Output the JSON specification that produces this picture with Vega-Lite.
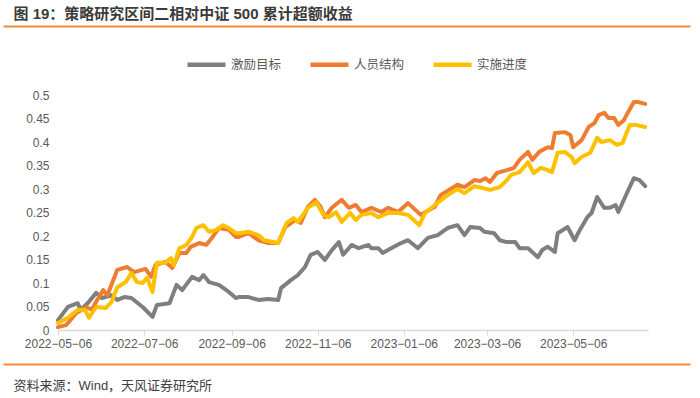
{
  "$schema": "https://vega.github.io/schema/vega-lite/v6.json",
  "autosize": "none",
  "width": 687,
  "height": 235,
  "padding": {"left": 3, "top": 95, "right": 10, "bottom": 68},
  "background": "white",
  "config": {
    "view": {"stroke": null},
    "font": "Liberation Sans, Noto Sans CJK SC, sans-serif"
  },
  "datasets": {
    "series": [
      {"date": "2022-05-06", "s": "激励目标", "v": 0.021},
      {"date": "2022-05-13", "s": "激励目标", "v": 0.049},
      {"date": "2022-05-20", "s": "激励目标", "v": 0.057},
      {"date": "2022-05-22", "s": "激励目标", "v": 0.043},
      {"date": "2022-05-27", "s": "激励目标", "v": 0.057},
      {"date": "2022-06-02", "s": "激励目标", "v": 0.079},
      {"date": "2022-06-06", "s": "激励目标", "v": 0.068},
      {"date": "2022-06-13", "s": "激励目标", "v": 0.074},
      {"date": "2022-06-17", "s": "激励目标", "v": 0.064},
      {"date": "2022-06-22", "s": "激励目标", "v": 0.070},
      {"date": "2022-06-27", "s": "激励目标", "v": 0.068},
      {"date": "2022-07-05", "s": "激励目标", "v": 0.049},
      {"date": "2022-07-12", "s": "激励目标", "v": 0.028},
      {"date": "2022-07-15", "s": "激励目标", "v": 0.053},
      {"date": "2022-07-24", "s": "激励目标", "v": 0.057},
      {"date": "2022-07-29", "s": "激励目标", "v": 0.096},
      {"date": "2022-08-02", "s": "激励目标", "v": 0.085},
      {"date": "2022-08-09", "s": "激励目标", "v": 0.113},
      {"date": "2022-08-14", "s": "激励目标", "v": 0.106},
      {"date": "2022-08-17", "s": "激励目标", "v": 0.117},
      {"date": "2022-08-21", "s": "激励目标", "v": 0.102},
      {"date": "2022-08-28", "s": "激励目标", "v": 0.096},
      {"date": "2022-09-04", "s": "激励目标", "v": 0.081},
      {"date": "2022-09-09", "s": "激励目标", "v": 0.068},
      {"date": "2022-09-11", "s": "激励目标", "v": 0.070},
      {"date": "2022-09-18", "s": "激励目标", "v": 0.070},
      {"date": "2022-09-25", "s": "激励目标", "v": 0.064},
      {"date": "2022-10-02", "s": "激励目标", "v": 0.066},
      {"date": "2022-10-09", "s": "激励目标", "v": 0.064},
      {"date": "2022-10-11", "s": "激励目标", "v": 0.089},
      {"date": "2022-10-18", "s": "激励目标", "v": 0.106},
      {"date": "2022-10-23", "s": "激励目标", "v": 0.117},
      {"date": "2022-10-28", "s": "激励目标", "v": 0.134},
      {"date": "2022-11-01", "s": "激励目标", "v": 0.160},
      {"date": "2022-11-06", "s": "激励目标", "v": 0.166},
      {"date": "2022-11-11", "s": "激励目标", "v": 0.149},
      {"date": "2022-11-16", "s": "激励目标", "v": 0.170},
      {"date": "2022-11-21", "s": "激励目标", "v": 0.187},
      {"date": "2022-11-24", "s": "激励目标", "v": 0.160},
      {"date": "2022-11-30", "s": "激励目标", "v": 0.181},
      {"date": "2022-12-05", "s": "激励目标", "v": 0.174},
      {"date": "2022-12-12", "s": "激励目标", "v": 0.181},
      {"date": "2022-12-14", "s": "激励目标", "v": 0.174},
      {"date": "2022-12-19", "s": "激励目标", "v": 0.174},
      {"date": "2022-12-22", "s": "激励目标", "v": 0.164},
      {"date": "2022-12-28", "s": "激励目标", "v": 0.174},
      {"date": "2023-01-04", "s": "激励目标", "v": 0.185},
      {"date": "2023-01-09", "s": "激励目标", "v": 0.191},
      {"date": "2023-01-16", "s": "激励目标", "v": 0.174},
      {"date": "2023-01-23", "s": "激励目标", "v": 0.196},
      {"date": "2023-01-30", "s": "激励目标", "v": 0.202},
      {"date": "2023-02-06", "s": "激励目标", "v": 0.217},
      {"date": "2023-02-13", "s": "激励目标", "v": 0.223},
      {"date": "2023-02-18", "s": "激励目标", "v": 0.202},
      {"date": "2023-02-22", "s": "激励目标", "v": 0.219},
      {"date": "2023-03-01", "s": "激励目标", "v": 0.217},
      {"date": "2023-03-04", "s": "激励目标", "v": 0.209},
      {"date": "2023-03-11", "s": "激励目标", "v": 0.206},
      {"date": "2023-03-15", "s": "激励目标", "v": 0.191},
      {"date": "2023-03-20", "s": "激励目标", "v": 0.187},
      {"date": "2023-03-26", "s": "激励目标", "v": 0.187},
      {"date": "2023-03-29", "s": "激励目标", "v": 0.174},
      {"date": "2023-04-04", "s": "激励目标", "v": 0.174},
      {"date": "2023-04-11", "s": "激励目标", "v": 0.155},
      {"date": "2023-04-14", "s": "激励目标", "v": 0.170},
      {"date": "2023-04-18", "s": "激励目标", "v": 0.177},
      {"date": "2023-04-23", "s": "激励目标", "v": 0.166},
      {"date": "2023-04-25", "s": "激励目标", "v": 0.206},
      {"date": "2023-05-02", "s": "激励目标", "v": 0.219},
      {"date": "2023-05-07", "s": "激励目标", "v": 0.191},
      {"date": "2023-05-10", "s": "激励目标", "v": 0.209},
      {"date": "2023-05-16", "s": "激励目标", "v": 0.240},
      {"date": "2023-05-19", "s": "激励目标", "v": 0.249},
      {"date": "2023-05-23", "s": "激励目标", "v": 0.283},
      {"date": "2023-05-28", "s": "激励目标", "v": 0.260},
      {"date": "2023-06-01", "s": "激励目标", "v": 0.260},
      {"date": "2023-06-05", "s": "激励目标", "v": 0.266},
      {"date": "2023-06-07", "s": "激励目标", "v": 0.251},
      {"date": "2023-06-13", "s": "激励目标", "v": 0.291},
      {"date": "2023-06-18", "s": "激励目标", "v": 0.323},
      {"date": "2023-06-22", "s": "激励目标", "v": 0.319},
      {"date": "2023-06-26", "s": "激励目标", "v": 0.306},
      {"date": "2022-05-06", "s": "人员结构", "v": 0.006},
      {"date": "2022-05-12", "s": "人员结构", "v": 0.011},
      {"date": "2022-05-19", "s": "人员结构", "v": 0.036},
      {"date": "2022-05-26", "s": "人员结构", "v": 0.049},
      {"date": "2022-05-30", "s": "人员结构", "v": 0.043},
      {"date": "2022-06-02", "s": "人员结构", "v": 0.060},
      {"date": "2022-06-07", "s": "人员结构", "v": 0.085},
      {"date": "2022-06-10", "s": "人员结构", "v": 0.074},
      {"date": "2022-06-17", "s": "人员结构", "v": 0.128},
      {"date": "2022-06-24", "s": "人员结构", "v": 0.134},
      {"date": "2022-06-29", "s": "人员结构", "v": 0.123},
      {"date": "2022-07-07", "s": "人员结构", "v": 0.130},
      {"date": "2022-07-11", "s": "人员结构", "v": 0.113},
      {"date": "2022-07-14", "s": "人员结构", "v": 0.138},
      {"date": "2022-07-21", "s": "人员结构", "v": 0.145},
      {"date": "2022-07-26", "s": "人员结构", "v": 0.132},
      {"date": "2022-07-31", "s": "人员结构", "v": 0.164},
      {"date": "2022-08-05", "s": "人员结构", "v": 0.164},
      {"date": "2022-08-08", "s": "人员结构", "v": 0.177},
      {"date": "2022-08-14", "s": "人员结构", "v": 0.185},
      {"date": "2022-08-19", "s": "人员结构", "v": 0.181},
      {"date": "2022-08-23", "s": "人员结构", "v": 0.196},
      {"date": "2022-08-28", "s": "人员结构", "v": 0.217},
      {"date": "2022-09-04", "s": "人员结构", "v": 0.213},
      {"date": "2022-09-09", "s": "人员结构", "v": 0.198},
      {"date": "2022-09-11", "s": "人员结构", "v": 0.198},
      {"date": "2022-09-18", "s": "人员结构", "v": 0.206},
      {"date": "2022-09-25", "s": "人员结构", "v": 0.191},
      {"date": "2022-10-02", "s": "人员结构", "v": 0.185},
      {"date": "2022-10-09", "s": "人员结构", "v": 0.185},
      {"date": "2022-10-14", "s": "人员结构", "v": 0.219},
      {"date": "2022-10-21", "s": "人员结构", "v": 0.234},
      {"date": "2022-10-25", "s": "人员结构", "v": 0.228},
      {"date": "2022-10-30", "s": "人员结构", "v": 0.262},
      {"date": "2022-11-04", "s": "人员结构", "v": 0.277},
      {"date": "2022-11-08", "s": "人员结构", "v": 0.262},
      {"date": "2022-11-11", "s": "人员结构", "v": 0.240},
      {"date": "2022-11-16", "s": "人员结构", "v": 0.260},
      {"date": "2022-11-23", "s": "人员结构", "v": 0.277},
      {"date": "2022-11-28", "s": "人员结构", "v": 0.260},
      {"date": "2022-12-03", "s": "人员结构", "v": 0.266},
      {"date": "2022-12-07", "s": "人员结构", "v": 0.251},
      {"date": "2022-12-14", "s": "人员结构", "v": 0.260},
      {"date": "2022-12-21", "s": "人员结构", "v": 0.251},
      {"date": "2022-12-26", "s": "人员结构", "v": 0.260},
      {"date": "2023-01-02", "s": "人员结构", "v": 0.251},
      {"date": "2023-01-09", "s": "人员结构", "v": 0.270},
      {"date": "2023-01-18", "s": "人员结构", "v": 0.245},
      {"date": "2023-01-28", "s": "人员结构", "v": 0.262},
      {"date": "2023-02-01", "s": "人员结构", "v": 0.287},
      {"date": "2023-02-13", "s": "人员结构", "v": 0.309},
      {"date": "2023-02-18", "s": "人员结构", "v": 0.304},
      {"date": "2023-02-25", "s": "人员结构", "v": 0.319},
      {"date": "2023-03-01", "s": "人员结构", "v": 0.317},
      {"date": "2023-03-05", "s": "人员结构", "v": 0.323},
      {"date": "2023-03-08", "s": "人员结构", "v": 0.315},
      {"date": "2023-03-13", "s": "人员结构", "v": 0.334},
      {"date": "2023-03-20", "s": "人员结构", "v": 0.340},
      {"date": "2023-03-25", "s": "人员结构", "v": 0.345},
      {"date": "2023-03-29", "s": "人员结构", "v": 0.362},
      {"date": "2023-04-04", "s": "人员结构", "v": 0.379},
      {"date": "2023-04-07", "s": "人员结构", "v": 0.362},
      {"date": "2023-04-12", "s": "人员结构", "v": 0.379},
      {"date": "2023-04-18", "s": "人员结构", "v": 0.389},
      {"date": "2023-04-21", "s": "人员结构", "v": 0.387},
      {"date": "2023-04-23", "s": "人员结构", "v": 0.419},
      {"date": "2023-04-30", "s": "人员结构", "v": 0.421},
      {"date": "2023-05-04", "s": "人员结构", "v": 0.415},
      {"date": "2023-05-06", "s": "人员结构", "v": 0.389},
      {"date": "2023-05-12", "s": "人员结构", "v": 0.404},
      {"date": "2023-05-17", "s": "人员结构", "v": 0.432},
      {"date": "2023-05-21", "s": "人员结构", "v": 0.440},
      {"date": "2023-05-24", "s": "人员结构", "v": 0.457},
      {"date": "2023-05-28", "s": "人员结构", "v": 0.462},
      {"date": "2023-05-31", "s": "人员结构", "v": 0.451},
      {"date": "2023-06-04", "s": "人员结构", "v": 0.451},
      {"date": "2023-06-07", "s": "人员结构", "v": 0.436},
      {"date": "2023-06-11", "s": "人员结构", "v": 0.447},
      {"date": "2023-06-14", "s": "人员结构", "v": 0.464},
      {"date": "2023-06-18", "s": "人员结构", "v": 0.485},
      {"date": "2023-06-21", "s": "人员结构", "v": 0.485},
      {"date": "2023-06-26", "s": "人员结构", "v": 0.481},
      {"date": "2022-05-06", "s": "实施进度", "v": 0.015},
      {"date": "2022-05-13", "s": "实施进度", "v": 0.026},
      {"date": "2022-05-20", "s": "实施进度", "v": 0.043},
      {"date": "2022-05-25", "s": "实施进度", "v": 0.043},
      {"date": "2022-05-28", "s": "实施进度", "v": 0.026},
      {"date": "2022-06-02", "s": "实施进度", "v": 0.049},
      {"date": "2022-06-09", "s": "实施进度", "v": 0.047},
      {"date": "2022-06-13", "s": "实施进度", "v": 0.060},
      {"date": "2022-06-17", "s": "实施进度", "v": 0.091},
      {"date": "2022-06-23", "s": "实施进度", "v": 0.102},
      {"date": "2022-06-27", "s": "实施进度", "v": 0.121},
      {"date": "2022-07-01", "s": "实施进度", "v": 0.102},
      {"date": "2022-07-05", "s": "实施进度", "v": 0.100},
      {"date": "2022-07-08", "s": "实施进度", "v": 0.111},
      {"date": "2022-07-12", "s": "实施进度", "v": 0.081},
      {"date": "2022-07-15", "s": "实施进度", "v": 0.143},
      {"date": "2022-07-21", "s": "实施进度", "v": 0.143},
      {"date": "2022-07-25", "s": "实施进度", "v": 0.153},
      {"date": "2022-07-27", "s": "实施进度", "v": 0.138},
      {"date": "2022-07-31", "s": "实施进度", "v": 0.174},
      {"date": "2022-08-05", "s": "实施进度", "v": 0.181},
      {"date": "2022-08-09", "s": "实施进度", "v": 0.198},
      {"date": "2022-08-12", "s": "实施进度", "v": 0.217},
      {"date": "2022-08-17", "s": "实施进度", "v": 0.223},
      {"date": "2022-08-21", "s": "实施进度", "v": 0.209},
      {"date": "2022-08-26", "s": "实施进度", "v": 0.213},
      {"date": "2022-08-31", "s": "实施进度", "v": 0.223},
      {"date": "2022-09-04", "s": "实施进度", "v": 0.217},
      {"date": "2022-09-09", "s": "实施进度", "v": 0.206},
      {"date": "2022-09-11", "s": "实施进度", "v": 0.206},
      {"date": "2022-09-18", "s": "实施进度", "v": 0.209},
      {"date": "2022-09-25", "s": "实施进度", "v": 0.202},
      {"date": "2022-09-29", "s": "实施进度", "v": 0.191},
      {"date": "2022-10-09", "s": "实施进度", "v": 0.185},
      {"date": "2022-10-15", "s": "实施进度", "v": 0.228},
      {"date": "2022-10-20", "s": "实施进度", "v": 0.238},
      {"date": "2022-10-23", "s": "实施进度", "v": 0.230},
      {"date": "2022-10-30", "s": "实施进度", "v": 0.260},
      {"date": "2022-11-05", "s": "实施进度", "v": 0.272},
      {"date": "2022-11-10", "s": "实施进度", "v": 0.245},
      {"date": "2022-11-14", "s": "实施进度", "v": 0.240},
      {"date": "2022-11-19", "s": "实施进度", "v": 0.251},
      {"date": "2022-11-23", "s": "实施进度", "v": 0.230},
      {"date": "2022-11-29", "s": "实施进度", "v": 0.249},
      {"date": "2022-12-03", "s": "实施进度", "v": 0.234},
      {"date": "2022-12-07", "s": "实施进度", "v": 0.245},
      {"date": "2022-12-14", "s": "实施进度", "v": 0.249},
      {"date": "2022-12-19", "s": "实施进度", "v": 0.240},
      {"date": "2022-12-26", "s": "实施进度", "v": 0.249},
      {"date": "2023-01-02", "s": "实施进度", "v": 0.249},
      {"date": "2023-01-09", "s": "实施进度", "v": 0.245},
      {"date": "2023-01-17", "s": "实施进度", "v": 0.223},
      {"date": "2023-01-21", "s": "实施进度", "v": 0.249},
      {"date": "2023-01-28", "s": "实施进度", "v": 0.266},
      {"date": "2023-02-06", "s": "实施进度", "v": 0.287},
      {"date": "2023-02-13", "s": "实施进度", "v": 0.300},
      {"date": "2023-02-18", "s": "实施进度", "v": 0.291},
      {"date": "2023-02-25", "s": "实施进度", "v": 0.306},
      {"date": "2023-03-03", "s": "实施进度", "v": 0.302},
      {"date": "2023-03-08", "s": "实施进度", "v": 0.298},
      {"date": "2023-03-15", "s": "实施进度", "v": 0.304},
      {"date": "2023-03-20", "s": "实施进度", "v": 0.319},
      {"date": "2023-03-23", "s": "实施进度", "v": 0.330},
      {"date": "2023-03-29", "s": "实施进度", "v": 0.336},
      {"date": "2023-04-04", "s": "实施进度", "v": 0.357},
      {"date": "2023-04-08", "s": "实施进度", "v": 0.334},
      {"date": "2023-04-13", "s": "实施进度", "v": 0.345},
      {"date": "2023-04-18", "s": "实施进度", "v": 0.340},
      {"date": "2023-04-21", "s": "实施进度", "v": 0.336},
      {"date": "2023-04-25", "s": "实施进度", "v": 0.377},
      {"date": "2023-04-30", "s": "实施进度", "v": 0.379},
      {"date": "2023-05-05", "s": "实施进度", "v": 0.368},
      {"date": "2023-05-07", "s": "实施进度", "v": 0.355},
      {"date": "2023-05-12", "s": "实施进度", "v": 0.368},
      {"date": "2023-05-18", "s": "实施进度", "v": 0.377},
      {"date": "2023-05-23", "s": "实施进度", "v": 0.409},
      {"date": "2023-05-26", "s": "实施进度", "v": 0.400},
      {"date": "2023-06-01", "s": "实施进度", "v": 0.404},
      {"date": "2023-06-06", "s": "实施进度", "v": 0.394},
      {"date": "2023-06-10", "s": "实施进度", "v": 0.398},
      {"date": "2023-06-15", "s": "实施进度", "v": 0.436},
      {"date": "2023-06-20", "s": "实施进度", "v": 0.436},
      {"date": "2023-06-26", "s": "实施进度", "v": 0.432}
    ],
    "frame": [{"date": "2022-05-06"}, {"date": "2023-06-28"}]
  },
  "layer": [
    {
      "data": {"name": "series"},
      "mark": {"type": "line", "strokeWidth": 4, "strokeJoin": "round", "strokeCap": "round"},
      "encoding": {
        "x": {
          "field": "date",
          "type": "temporal",
          "scale": {
            "type": "utc",
            "domain": [
              {"year": 2022, "month": 5, "date": 6, "utc": true},
              {"year": 2023, "month": 6, "date": 28, "utc": true}
            ],
            "range": [55, 645]
          },
          "axis": {
            "orient": "bottom",
            "title": null,
            "grid": false,
            "values": [
              {"year": 2022, "month": 5, "date": 6, "utc": true},
              {"year": 2022, "month": 7, "date": 6, "utc": true},
              {"year": 2022, "month": 9, "date": 6, "utc": true},
              {"year": 2022, "month": 11, "date": 6, "utc": true},
              {"year": 2023, "month": 1, "date": 6, "utc": true},
              {"year": 2023, "month": 3, "date": 6, "utc": true},
              {"year": 2023, "month": 5, "date": 6, "utc": true}
            ],
            "format": "%Y−%m−%d",
            "domainColor": "#d9d9d9",
            "domainWidth": 1.5,
            "tickColor": "#d9d9d9",
            "tickSize": 5,
            "tickWidth": 1,
            "labelPadding": 3,
            "labelFontSize": 12,
            "labelColor": "#595959",
            "labelFlush": false,
            "labelOverlap": false
          }
        },
        "y": {
          "field": "v",
          "type": "quantitative",
          "scale": {"domain": [0, 0.5], "nice": false, "zero": true},
          "axis": {
            "title": null,
            "grid": false,
            "domain": false,
            "ticks": false,
            "offset": -55,
            "values": [0, 0.05, 0.1, 0.15, 0.2, 0.25, 0.3, 0.35, 0.4, 0.45, 0.5],
            "format": "~g",
            "labelPadding": 9,
            "labelFontSize": 12,
            "labelColor": "#595959"
          }
        },
        "color": {
          "field": "s",
          "type": "nominal",
          "scale": {
            "domain": ["激励目标", "人员结构", "实施进度"],
            "range": ["#7f7f7f", "#ed7d31", "#ffc000"]
          },
          "legend": {
            "title": null,
            "orient": "none",
            "direction": "horizontal",
            "legendX": 182,
            "legendY": -52,
            "padding": 0,
            "symbolType": "stroke",
            "symbolSize": 1444,
            "symbolStrokeWidth": 4.5,
            "labelFontSize": 12.5,
            "labelColor": "#595959",
            "labelOffset": 3,
            "columnPadding": 19
          }
        }
      }
    },
    {
      "data": {"name": "frame"},
      "mark": {"type": "point", "opacity": 0},
      "encoding": {
        "x": {
          "field": "date",
          "type": "temporal",
          "axis": {
            "orient": "top",
            "offset": 69,
            "labels": false,
            "ticks": false,
            "grid": false,
            "domainColor": "#f08a3c",
            "domainWidth": 2,
            "title": "图 19：策略研究区间二相对中证 500 累计超额收益",
            "titleX": 10,
            "titleY": -13,
            "titleAlign": "left",
            "titleBaseline": "middle",
            "titleFontSize": 15,
            "titleFontWeight": "bold",
            "titleColor": "#3a3a3a"
          }
        }
      }
    },
    {
      "data": {"name": "frame"},
      "mark": {"type": "point", "opacity": 0},
      "encoding": {
        "x": {
          "field": "date",
          "type": "temporal",
          "axis": {
            "orient": "bottom",
            "offset": 34,
            "labels": false,
            "ticks": false,
            "grid": false,
            "domainColor": "#f08a3c",
            "domainWidth": 2,
            "title": "资料来源：Wind，天风证券研究所",
            "titleX": 10,
            "titleY": 21,
            "titleAlign": "left",
            "titleBaseline": "middle",
            "titleFontSize": 13,
            "titleFontWeight": "normal",
            "titleColor": "#404040"
          }
        }
      }
    }
  ],
  "resolve": {"scale": {"x": "independent"}, "axis": {"x": "independent"}}
}
